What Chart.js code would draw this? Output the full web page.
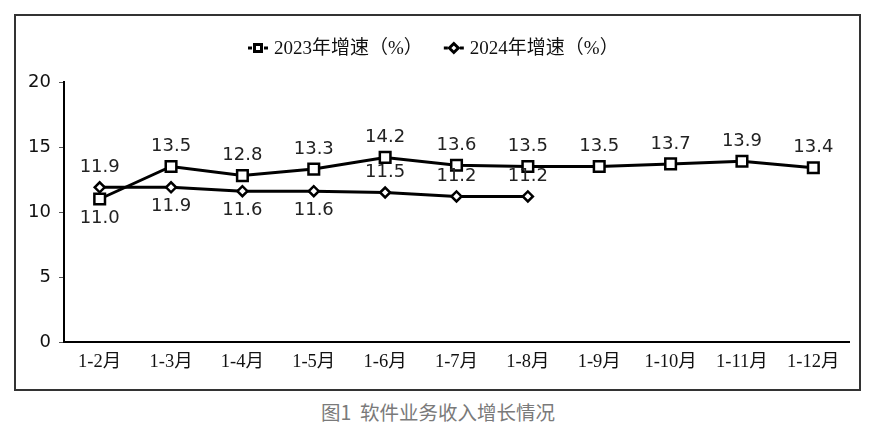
<!DOCTYPE html>
<html>
<head>
<meta charset="utf-8">
<script src="https://cdn.jsdelivr.net/npm/chart.js@4/dist/chart.umd.min.js"></script>
<style>
  body { margin: 0; background: #fff; width: 874px; height: 431px; position: relative; overflow: hidden; }
  #frame { position: absolute; left: 14px; top: 14px; width: 843px; height: 373px; border: 2px solid #333; }
  #frame canvas { display: block; }
  #caption { position: absolute; left: 0; width: 876px; top: 397px; text-align: center;
    font: 19.5px "Noto Sans CJK SC", "Noto Sans", sans-serif; color: #7a7a7a; }
</style>
</head>
<body>
<div id="frame"><canvas id="chart" width="843" height="373"></canvas></div>
<div id="caption">图1&nbsp;&nbsp;软件业务收入增长情况</div>
<script>
const categories = ['1-2月', '1-3月', '1-4月', '1-5月', '1-6月', '1-7月', '1-8月', '1-9月', '1-10月', '1-11月', '1-12月'];
const growth2023 = [11.0, 13.5, 12.8, 13.3, 14.2, 13.6, 13.5, 13.5, 13.7, 13.9, 13.4];
const growth2024 = [11.9, 11.9, 11.6, 11.6, 11.5, 11.2, 11.2];
const seriesNames = ['2023年增速（%）', '2024年增速（%）'];
const yTicks = [0, 5, 10, 15, 20];

// where each value label sits relative to its point
const labelSide2023 = ['bottom', 'top', 'top', 'top', 'top', 'top', 'top', 'top', 'top', 'top', 'top'];
const labelSide2024 = ['top', 'bottom', 'bottom', 'bottom', 'top', 'top', 'top'];

const SANS = '"DejaVu Sans", Verdana, sans-serif';
const SERIF = '"Liberation Serif", "Noto Sans CJK SC", serif';

const valueLabels = {
  id: 'valueLabels',
  afterDatasetsDraw(chart) {
    const ctx = chart.ctx;
    ctx.save();
    ctx.font = '18px ' + SANS;
    ctx.fillStyle = '#222';
    ctx.textAlign = 'center';
    ctx.textBaseline = 'middle';
    chart.data.datasets.forEach((ds, i) => {
      const meta = chart.getDatasetMeta(i);
      meta.data.forEach((pt, j) => {
        const side = ds.labelSide[j];
        const dy = side === 'top' ? -20 : 19;
        ctx.fillText(ds.data[j].toFixed(1), pt.x, pt.y + dy);
      });
    });
    ctx.restore();
  }
};

const topLegend = {
  id: 'topLegend',
  afterDraw(chart) {
    const ctx = chart.ctx;
    const y = 32;
    ctx.save();
    ctx.font = '19px ' + SERIF;
    ctx.textBaseline = 'middle';
    const widths = chart.data.datasets.map(ds => ctx.measureText(ds.label).width);
    const markW = 22, gap = 5, itemGap = 20;
    let x = 231;
    chart.data.datasets.forEach((ds, i) => {
      ctx.strokeStyle = '#000';
      ctx.lineWidth = 3;
      ctx.beginPath();
      ctx.moveTo(x + 1, y);
      ctx.lineTo(x + 5, y);
      ctx.moveTo(x + markW - 5, y);
      ctx.lineTo(x + markW - 1, y);
      ctx.stroke();
      const cx = x + markW / 2;
      ctx.fillStyle = '#fff';
      ctx.beginPath();
      if (ds.pointStyle === 'rect') {
        ctx.rect(cx - 3.5, y - 3.5, 7, 7);
      } else {
        ctx.moveTo(cx, y - 4.5);
        ctx.lineTo(cx + 4.5, y);
        ctx.lineTo(cx, y + 4.5);
        ctx.lineTo(cx - 4.5, y);
        ctx.closePath();
      }
      ctx.fill();
      ctx.stroke();
      ctx.fillStyle = '#111';
      ctx.fillText(ds.label, x + markW + gap, y + 1);
      x += markW + gap + widths[i] + itemGap;
    });
    ctx.restore();
  }
};

new Chart(document.getElementById('chart'), {
  type: 'line',
  data: {
    labels: categories,
    datasets: [
      {
        label: seriesNames[0],
        data: growth2023,
        labelSide: labelSide2023,
        borderColor: '#000',
        borderWidth: 3,
        pointStyle: 'rect',
        pointRadius: 7.5,
        pointBorderWidth: 2.5,
        pointBackgroundColor: '#fff',
        pointBorderColor: '#000',
        tension: 0,
      },
      {
        label: seriesNames[1],
        data: growth2024,
        labelSide: labelSide2024,
        borderColor: '#000',
        borderWidth: 3,
        pointStyle: 'rectRot',
        pointRadius: 5,
        pointBorderWidth: 2.5,
        pointBackgroundColor: '#fff',
        pointBorderColor: '#000',
        tension: 0,
      },
    ],
  },
  options: {
    responsive: false,
    animation: false,
    layout: { padding: { top: 66, right: 7, left: 0, bottom: 0 } },
    plugins: {
      legend: { display: false },
      tooltip: { enabled: false },
    },
    scales: {
      x: {
        offset: true,
        grid: { display: true, drawOnChartArea: false, drawTicks: false },
        border: { display: true, color: '#000', width: 2 },
        ticks: { padding: 9, color: '#111', font: { family: SERIF, size: 18.5 }, maxRotation: 0, autoSkip: false },
        afterFit(scale) { scale.height = 47; },
      },
      y: {
        min: 0,
        max: 20,
        afterBuildTicks(scale) { scale.ticks = yTicks.map(v => ({ value: v })); },
        grid: { display: true, drawOnChartArea: false, drawTicks: true, tickLength: 5, color: '#555' },
        border: { display: true, color: '#000', width: 2 },
        ticks: { padding: 8, color: '#111', font: { family: SANS, size: 18 } },
        afterFit(scale) { scale.width = 48; },
      },
    },
  },
  plugins: [valueLabels, topLegend],
});
</script>
</body>
</html>
